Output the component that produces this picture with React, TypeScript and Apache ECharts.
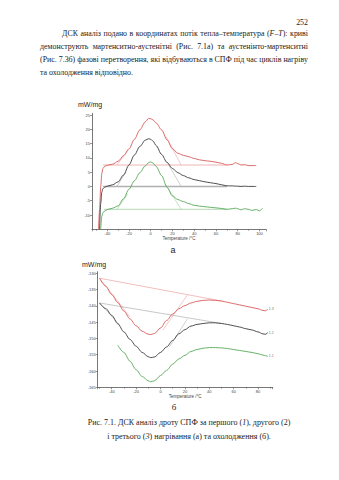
import React, { useEffect, useRef } from "react";
import * as echarts from "echarts";

// ---- Heating (a) ----
const heatTemps = [-48, -47, -46, -45, -44, -42, -40, -35, -30, -25, -20, -15, -10, -5, -2, 0, 2, 5, 10, 15, 20, 25, 30, 35, 40, 45, 50, 55, 60, 65, 70, 75, 78, 80, 83, 86, 90, 93, 97, 100, 103];
const heatRun1 = [-15, -8, 0, 4.5, 6.3, 7.1, 7.4, 7.8, 8.8, 10.8, 13.1, 16.5, 19.8, 22.6, 23.8, 23.7, 23.3, 22.2, 19.8, 16.3, 13.2, 11.6, 10.9, 10.4, 9.8, 9.3, 9.0, 8.8, 8.5, 8.1, 7.5, 7.7, 8.3, 8.0, 7.5, 7.6, 7.3, 7.3, 7.3, null, null];
const heatRun2 = [null, -15, -6, -2, -0.8, -0.2, 0.1, 0.6, 1.6, 4.0, 7.5, 11.0, 14.0, 16.2, 16.7, 16.5, 15.9, 14.3, 11.2, 8.4, 6.3, 4.8, 3.8, 3.0, 2.4, 2.0, 1.6, 1.3, 1.0, 0.6, 0.2, 0.2, 0.1, 0.1, 0.0, 0.1, 0.0, 0.0, 0.0, null, null];
const heatRun3 = [null, null, -15, -10.5, -9.2, -8.5, -8.1, -7.6, -6.8, -4.3, -1.0, 2.0, 4.8, 7.2, 8.3, 8.6, 8.2, 7.0, 3.8, -0.3, -3.3, -4.6, -5.3, -6.0, -6.6, -6.9, -7.1, -7.3, -7.5, -7.7, -8.0, -7.8, -7.6, -7.8, -8.2, -7.8, -8.0, -8.4, -8.1, -8.5, -7.6];
const heatBaseLevels = [7.5, 0, -8];
const heatBaseFrom = [-44, -44, -43];
const heatBaseTo = 70;
// tangents: [x1, y1, x2, y2]
const heatTangents = [
  [[-31, 7.5, -21, 12.6], [28, 7.5, 14, 17.5]],
  [[-31, 0, -23, 5], [28, 0, 15, 8.5]],
  [[-31, -8, -21, -2.5], [28, -8, 14, 0.5]],
];

// ---- Cooling (б) ----
const coolTemps = [-50, -45, -40, -35, -30, -25, -20, -15, -10, -8, -5, 0, 5, 10, 15, 20, 25, 30, 35, 40, 45, 50, 55, 60, 65, 70, 75, 80, 84, 86, 88];
const coolRun1 = [-131.5, -133.9, -136.5, -139.0, -141.6, -144.0, -146.1, -147.8, -148.7, -148.8, -148.5, -146.8, -144.5, -142.5, -140.9, -139.9, -139.1, -138.6, -138.3, -138.2, -138.3, -138.5, -138.9, -139.3, -139.7, -140.1, -140.5, -140.9, -141.4, -141.5, -141.0];
const coolRun2 = [-139.1, -140.8, -142.9, -145.5, -148.0, -150.3, -152.4, -154.3, -155.6, -155.9, -155.7, -154.3, -152.6, -150.6, -148.6, -147.3, -146.2, -145.7, -145.4, -145.2, -145.2, -145.4, -145.7, -146.1, -146.5, -147.0, -147.4, -148.0, -148.6, -148.7, -148.2];
const coolRun3 = [null, null, null, -152.1, -154.3, -157.0, -159.6, -161.7, -163.0, -163.3, -163.0, -161.4, -159.8, -157.9, -156.3, -155.2, -154.0, -153.4, -153.0, -152.8, -152.8, -152.9, -153.1, -153.4, -153.7, -154.0, -154.3, -154.7, -155.1, -155.3, -155.5];
const coolBaselines = [
  [-50, -131.5, 50, -138.5],
  [-50, -139.1, 50, -145.4],
];
const coolTangents = [
  [[-50, -131.5, -25, -143.4], [2, -147.4, 22, -136.7]],
  [[-50, -139.1, -34, -145.6], [7.5, -152.5, 22, -144.0]],
];
const coolEndLabels = ["1.3", "1.2", "1.1"];

const RED = "#d85a5a";
const BLACK = "#3a3a3a";
const GREEN = "#58a858";
const RED_L = "#eaa3a3";
const GRAY_L = "#b0b0b0";
const GREEN_L = "#9fd09f";

function pairs(xs: number[], ys: (number | null)[]) {
  const out: number[][] = [];
  xs.forEach((x, i) => {
    const y = ys[i];
    if (y !== null && y !== undefined) out.push([x, y]);
  });
  return out;
}

function seg(x1: number, y1: number, x2: number, y2: number) {
  return [[x1, y1], [x2, y2]];
}

const axisCommon = {
  axisLine: { onZero: false, lineStyle: { color: "#555", width: 0.8 } },
  axisTick: { length: 2, lineStyle: { color: "#555", width: 0.6 } },
  splitLine: { show: false },
  axisLabel: { fontSize: 4, color: "#444", margin: 2, fontFamily: "Liberation Sans" },
};

function curve(xi: number, data: number[][], color: string, width = 0.9) {
  return {
    type: "line",
    xAxisIndex: xi,
    yAxisIndex: xi,
    data,
    showSymbol: false,
    symbol: "none",
    smooth: 0.3,
    smoothMonotone: "x",
    lineStyle: { color, width },
    silent: true,
  };
}

function straight(xi: number, data: number[][], color: string, width = 0.7) {
  return {
    type: "line",
    xAxisIndex: xi,
    yAxisIndex: xi,
    data,
    showSymbol: false,
    symbol: "none",
    lineStyle: { color, width },
    silent: true,
  };
}

const serif = '"Liberation Serif", "Times New Roman", serif';
const BODY_FS = 7.9;

function JLine({ top, left = 40, width = 268, words }: { top: number; left?: number; width?: number; words: React.ReactNode[] }) {
  return (
    <div
      style={{
        position: "absolute",
        top,
        left,
        width,
        height: 13,
        lineHeight: "13px",
        fontSize: BODY_FS,
        fontFamily: serif,
        color: "#222",
        display: "flex",
        justifyContent: "space-between",
        whiteSpace: "nowrap",
      }}
    >
      {words.map((w, i) => (
        <span key={i}>{w}</span>
      ))}
    </div>
  );
}

export default function App() {
  const ref = useRef<HTMLDivElement>(null);
  useEffect(() => {
    if (!ref.current) return;
    const chart = echarts.init(ref.current, undefined, { renderer: "svg" });
    const heatColors = [RED, BLACK, GREEN];
    const heatLight = [RED_L, GRAY_L, GREEN_L];
    const series: any[] = [];
    heatBaseLevels.forEach((lvl, i) => {
      series.push(straight(0, seg(heatBaseFrom[i], lvl, heatBaseTo, lvl), heatLight[i], i === 1 ? 1.4 : 0.8));
      heatTangents[i].forEach((t) => series.push(straight(0, seg(t[0], t[1], t[2], t[3]), heatLight[i], 0.6)));
    });
    [heatRun1, heatRun2, heatRun3].forEach((run, i) => series.push(curve(0, pairs(heatTemps, run), heatColors[i])));
    coolBaselines.forEach((b, i) => {
      series.push(straight(1, seg(b[0], b[1], b[2], b[3]), heatLight[i], 0.7));
      coolTangents[i].forEach((t) => series.push(straight(1, seg(t[0], t[1], t[2], t[3]), heatLight[i], 0.6)));
    });
    [coolRun1, coolRun2, coolRun3].forEach((run, i) => {
      const s: any = curve(1, pairs(coolTemps, run), heatColors[i]);
      s.endLabel = { show: true, formatter: coolEndLabels[i], fontSize: 3.5, color: "#777", distance: 1 };
      series.push(s);
    });

    chart.setOption({
      animation: false,
      grid: [
        { left: 92, top: 113.3, width: 174, height: 116 },
        { left: 97.7, top: 271.7, width: 175, height: 115.6 },
      ],
      xAxis: [
        {
          gridIndex: 0, type: "value", min: -54, max: 106, splitNumber: 8, ...axisCommon,
          axisLabel: { ...axisCommon.axisLabel, showMinLabel: false, showMaxLabel: false },
          minorTick: { show: true, splitNumber: 2, length: 1.5, lineStyle: { color: "#555", width: 0.5 } },
          name: "Temperature /°C", nameLocation: "middle", nameGap: 7,
          nameTextStyle: { fontSize: 4.5, color: "#444", fontFamily: "Liberation Sans" },
        },
        {
          gridIndex: 1, type: "value", min: -51.5, max: 92, splitNumber: 7, ...axisCommon,
          axisLabel: { ...axisCommon.axisLabel, showMinLabel: false, showMaxLabel: false },
          minorTick: { show: true, splitNumber: 2, length: 1.5, lineStyle: { color: "#555", width: 0.5 } },
          name: "Temperature /°C", nameLocation: "middle", nameGap: 7,
          nameTextStyle: { fontSize: 4.5, color: "#444", fontFamily: "Liberation Sans" },
        },
      ],
      yAxis: [
        {
          gridIndex: 0, type: "value", min: -15, max: 25.6, interval: 5, ...axisCommon,
          axisLabel: { ...axisCommon.axisLabel, showMinLabel: false, showMaxLabel: false },
        },
        {
          gridIndex: 1, type: "value", min: -165, max: -129.5, interval: 5, ...axisCommon,
          axisLabel: { ...axisCommon.axisLabel, showMaxLabel: false },
        },
      ],
      graphic: [
        { type: "text", left: 78, top: 101, style: { text: "mW/mg", fontSize: 7, fill: "#222", fontFamily: "Liberation Sans" } },
        { type: "text", left: 82, top: 261, style: { text: "mW/mg", fontSize: 7, fill: "#222", fontFamily: "Liberation Sans" } },
        { type: "text", x: 173, y: 250, style: { text: "а", fontSize: 9, fill: "#222", fontFamily: "Liberation Sans", align: "center", verticalAlign: "middle" } },
        { type: "text", x: 174, y: 407, style: { text: "б", fontSize: 9, fill: "#222", fontFamily: "Liberation Serif", align: "center", verticalAlign: "middle" } },
      ],
      series,
    });
    return () => chart.dispose();
  }, []);

  const plain: React.CSSProperties = {
    position: "absolute",
    height: 13,
    lineHeight: "13px",
    fontSize: BODY_FS,
    fontFamily: serif,
    color: "#222",
    whiteSpace: "nowrap",
  };

  return (
    <div style={{ position: "absolute", left: 0, top: 0, width: 339, height: 480, background: "#fff", overflow: "hidden" }}>
      <div style={{ ...plain, top: 15.5, left: 240, width: 68, textAlign: "right" }}>252</div>
      <JLine
        top={26.5}
        left={62}
        width={246}
        words={["ДСК", "аналіз", "подано", "в", "координатах", "потік", "тепла–температура", <>(<i>F</i>–<i>T</i>):</>, "криві"]}
      />
      <JLine
        top={39.5}
        words={["демонструють", "мартенситно-аустенітні", "(Рис.", "7.1а)", "та", "аустенінто-мартенситні"]}
      />
      <JLine
        top={52.5}
        words={["(Рис.", "7.3б)", "фазові", "перетворення,", "які", "відбуваються", "в", "СПФ", "під", "час", "циклів", "нагріву"]}
      />
      <div style={{ ...plain, top: 65.5, left: 40 }}>та охолодження відповідно.</div>
      <div ref={ref} style={{ position: "absolute", left: 0, top: 0, width: 339, height: 480 }} />
      <div style={{ ...plain, fontSize: 8, top: 415.5, left: 40, width: 298, textAlign: "center" }}>
        Рис. 7.1. ДСК аналіз дроту СПФ за першого (<i>1</i>), другого (2)
      </div>
      <div style={{ ...plain, fontSize: 8, top: 429.5, left: 40, width: 298, textAlign: "center" }}>
        і третього (<i>3</i>) нагрівання (а) та охолодження (б).
      </div>
    </div>
  );
}
